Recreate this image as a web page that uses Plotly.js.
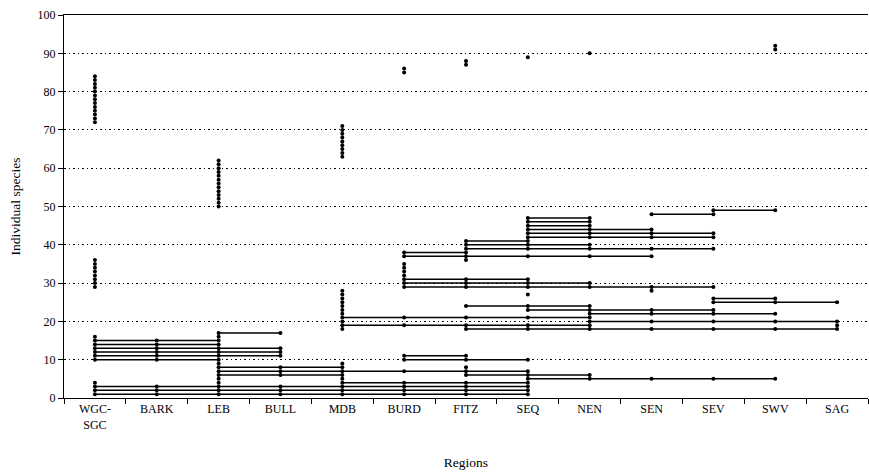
<!DOCTYPE html>
<html>
<head>
<meta charset="utf-8">
<script src="https://cdn.plot.ly/plotly-3.0.1.min.js"></script>
<style>
  html, body { margin: 0; padding: 0; background: #fff; }
  #chart { width: 869px; height: 473px; }
</style>
</head>
<body>
<div id="chart"></div>
<script>
// Regions (x categories) and their tick labels
const regions = ['WGC-SGC', 'BARK', 'LEB', 'BULL', 'MDB', 'BURD', 'FITZ', 'SEQ', 'NEN', 'SEN', 'SEV', 'SWV', 'SAG'];
const regionLabels = ['WGC-<br>SGC', 'BARK', 'LEB', 'BULL', 'MDB', 'BURD', 'FITZ', 'SEQ', 'NEN', 'SEN', 'SEV', 'SWV', 'SAG'];

// Individual species (y value) recorded in each region
const spWGC  = [1,2,3,4,10,11,12,13,14,15,16,29,30,31,32,33,34,35,36,72,73,74,75,76,77,78,79,80,81,82,83,84];
const spBARK = [1,2,3,10,11,12,13,14,15];
const spLEB  = [1,2,3,4,5,6,7,8,9,10,11,12,13,14,15,16,17,50,51,52,53,54,55,56,57,58,59,60,61,62];
const spBULL = [1,2,3,6,7,8,11,12,13,17];
const spMDB  = [1,2,3,4,5,6,7,8,9,18,19,20,21,22,23,24,25,26,27,28,63,64,65,66,67,68,69,70,71];
const spBURD = [1,2,3,4,7,10,11,19,21,29,30,31,32,33,34,35,37,38,85,86];
const spFITZ = [1,2,3,4,6,7,8,10,11,18,19,21,24,29,30,31,36,37,38,39,40,41,87,88];
const spSEQ  = [1,2,3,4,5,6,7,10,18,19,21,23,24,27,29,30,31,37,39,40,41,42,43,44,45,46,47,89];
const spNEN  = [5,6,18,19,20,21,22,23,24,29,30,37,39,40,42,43,44,45,46,47,90];
const spSEN  = [5,18,20,22,23,28,29,37,39,42,43,44,48];
const spSEV  = [5,18,20,22,23,25,26,29,39,42,43,48,49];
const spSWV  = [5,18,20,22,25,26,49,91,92];
const spSAG  = [18,19,20,25];

const speciesByRegion = [spWGC, spBARK, spLEB, spBULL, spMDB, spBURD, spFITZ, spSEQ, spNEN, spSEN, spSEV, spSWV, spSAG];

// one series per species: present -> its number, absent -> gap
const allSpecies = Array.from(new Set([].concat(...speciesByRegion))).sort((a, b) => a - b);
const traces = allSpecies.map(s => ({
  type: 'scatter',
  mode: 'lines+markers',
  x: regions,
  y: speciesByRegion.map(list => list.includes(s) ? s : null),
  connectgaps: false,
  line: { color: '#000000', width: 1.5 },
  marker: { color: '#000000', size: 4 },
  hoverinfo: 'skip',
  showlegend: false
}));

const serif = 'Liberation Serif, Times New Roman, serif';
const layout = {
  width: 869,
  height: 473,
  margin: { l: 64, r: 1, t: 15, b: 75 },
  paper_bgcolor: '#ffffff',
  plot_bgcolor: '#ffffff',
  font: { family: serif, size: 12, color: '#000000' },
  showlegend: false,
  xaxis: {
    type: 'category',
    categoryorder: 'array',
    categoryarray: regions,
    tickmode: 'array',
    tickvals: regions,
    ticktext: regionLabels,
    tickson: 'boundaries',
    ticks: 'outside',
    ticklen: 5,
    tickcolor: '#000000',
    showgrid: false,
    zeroline: false,
    showline: true,
    linecolor: '#000000',
    linewidth: 1,
    mirror: true,
    range: [-0.5, 12.5],
    tickfont: { family: serif, size: 12, color: '#000000' },
    title: { text: 'Regions', font: { family: serif, size: 13.5, color: '#000000' }, standoff: 26 }
  },
  yaxis: {
    range: [0, 100],
    tickmode: 'linear',
    tick0: 0,
    dtick: 10,
    ticks: 'outside',
    ticklen: 5,
    tickcolor: '#000000',
    showgrid: true,
    gridcolor: '#000000',
    gridwidth: 1,
    griddash: '1.5px,3px',
    zeroline: false,
    showline: true,
    linecolor: '#000000',
    linewidth: 1,
    tickfont: { family: serif, size: 12, color: '#000000' },
    title: { text: 'Individual species', font: { family: serif, size: 13.5, color: '#000000' }, standoff: 13 }
  }
};

Plotly.newPlot('chart', traces, layout, { displayModeBar: false, staticPlot: true });
</script>
</body>
</html>
